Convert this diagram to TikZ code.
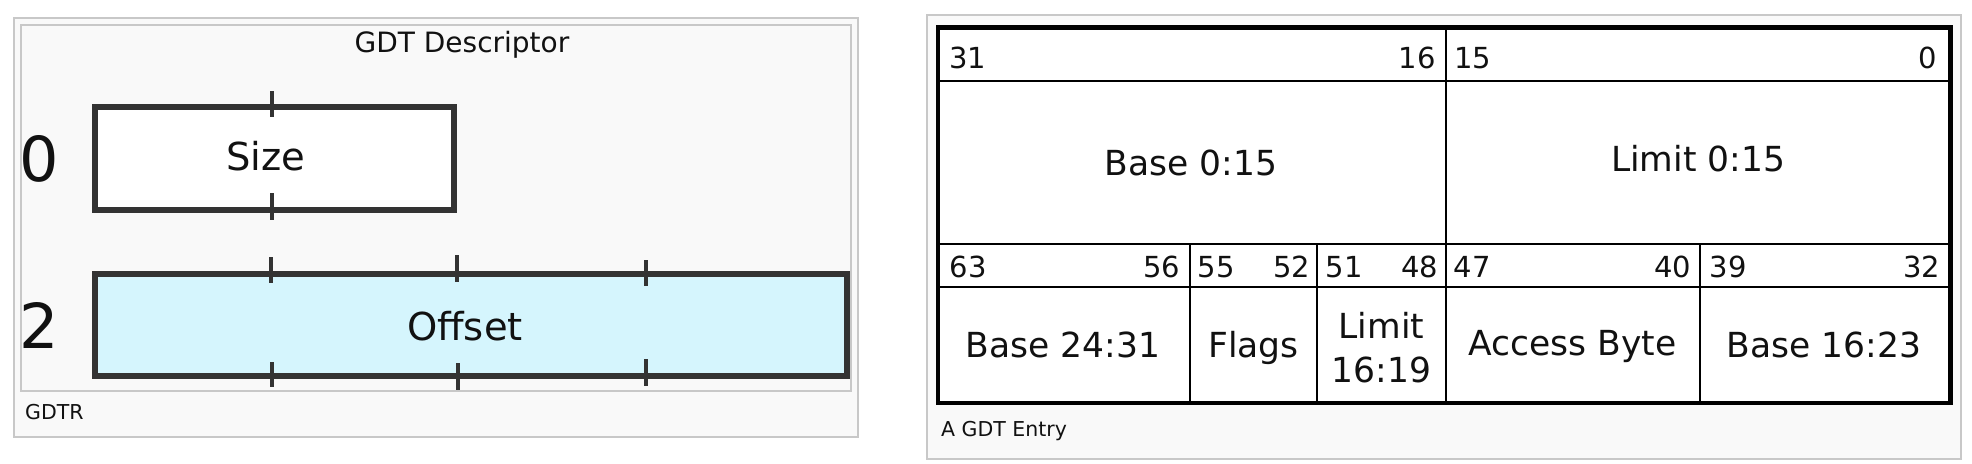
\documentclass[tikz,border=0pt]{standalone}
\usepackage{fontspec}
\setmainfont{DejaVu Sans}
\definecolor{panelbg}{HTML}{F9F9F9}
\definecolor{framegray}{HTML}{C8C8C8}
\definecolor{boxdark}{HTML}{333333}
\definecolor{offsetfill}{HTML}{D5F5FD}
\definecolor{txt}{HTML}{111111}
\tikzset{
  frameline/.style={draw=framegray, line width=1.5pt},
  regbox/.style={draw=boxdark, line width=6pt},
  tick/.style={draw=boxdark, line width=4.5pt},
  tabouter/.style={draw=black, line width=4.5pt},
  tabline/.style={draw=black, line width=2pt},
  lbl/.style={inner sep=0, text=txt, font=\fontsize{34.5}{44}\selectfont},
  num/.style={inner sep=0, text=txt, font=\fontsize{29}{35}\selectfont},
  capt/.style={inner sep=0, text=txt, font=\fontsize{20.5}{25}\selectfont},
  regtxt/.style={inner sep=0, text=txt, font=\fontsize{38.5}{46}\selectfont},
  idx/.style={inner sep=0, text=txt, font=\fontsize{62}{70}\selectfont},
  ttl/.style={inner sep=0, text=txt, font=\fontsize{28}{34}\selectfont},
}
\begin{document}
\begin{tikzpicture}[x=1pt, y=-1pt]
\useasboundingbox[fill=white] (0,0) rectangle (1972,463);
% ---------------- left panel ----------------
\path[frameline, fill=panelbg] (14,18) rectangle (858,437);
\path[frameline, fill=panelbg] (21,25) rectangle (851,391);
\node[ttl, anchor=base] (title) at (462,52) {GDT Descriptor};
\path[regbox, fill=white] (95,107) rectangle (454,209.5);
\path[regbox, fill=offsetfill] (95,273.5) rectangle (846.5,376);
% ticks
\path[tick] (272,91) -- (272,117);
\path[tick] (272,193) -- (272,220);
\path[tick] (271,257) -- (271,283);
\path[tick] (457,255) -- (457,282);
\path[tick] (646,260) -- (646,286);
\path[tick] (272,362) -- (272,387);
\path[tick] (458,363) -- (458,390);
\path[tick] (646,359) -- (646,386);
\node[idx, anchor=base] (i0) at (39.5,181.5) {0};
\node[idx, anchor=base] (i2) at (39.5,348) {2};
\node[regtxt, anchor=base] (size) at (266,170) {Size};
\node[regtxt, anchor=base] (offset) at (465,340) {Offset};
\node[capt, anchor=base west] (gdtr) at (25,419) {GDTR};
% ---------------- right panel ----------------
\path[frameline, fill=panelbg] (927,15) rectangle (1961,459);
\path[fill=white] (938,27.5) rectangle (1950.5,403);
\path[tabline] (938,81) -- (1950.5,81);
\path[tabline] (938,244) -- (1950.5,244);
\path[tabline] (938,287) -- (1950.5,287);
\path[tabline] (1446,27.5) -- (1446,403);
\path[tabline] (1190,244) -- (1190,403);
\path[tabline] (1317,244) -- (1317,403);
\path[tabline] (1700,244) -- (1700,403);
\path[tabouter] (938,27.5) rectangle (1950.5,403);
% bit numbers
\node[num, anchor=base west] (n31) at (949,68) {31};
\node[num, anchor=base east] (n16) at (1436,68) {16};
\node[num, anchor=base west] (n15) at (1454,68) {15};
\node[num, anchor=base east] (n0) at (1937,68) {0};
\node[num, anchor=base west] (n63) at (949.5,277) {63};
\node[num, anchor=base east] (n56) at (1180.5,277) {56};
\node[num, anchor=base west] (n55) at (1197.5,277) {55};
\node[num, anchor=base east] (n52) at (1310.5,277) {52};
\node[num, anchor=base west] (n51) at (1325.5,277) {51};
\node[num, anchor=base east] (n48) at (1438.5,277) {48};
\node[num, anchor=base west] (n47) at (1453.5,277) {47};
\node[num, anchor=base east] (n40) at (1691.5,277) {40};
\node[num, anchor=base west] (n39) at (1709.5,277) {39};
\node[num, anchor=base east] (n32) at (1940.5,277) {32};
% field labels
\node[lbl, anchor=base] (base015) at (1191,175) {Base 0:15};
\node[lbl, anchor=base] (limit015) at (1698,171) {Limit 0:15};
\node[lbl, anchor=base] (base2431) at (1063,357) {Base 24:31};
\node[lbl, anchor=base] (flags) at (1253.5,357) {Flags};
\node[lbl, anchor=base] (limitA) at (1381.5,338) {Limit};
\node[lbl, anchor=base] (limitB) at (1381.5,382) {16:19};
\node[lbl, anchor=base] (access) at (1572.5,355) {Access Byte};
\node[lbl, anchor=base] (base1623) at (1824,357) {Base 16:23};
\node[capt, anchor=base west] (entry) at (941,436) {A GDT Entry};
\end{tikzpicture}
\end{document}
